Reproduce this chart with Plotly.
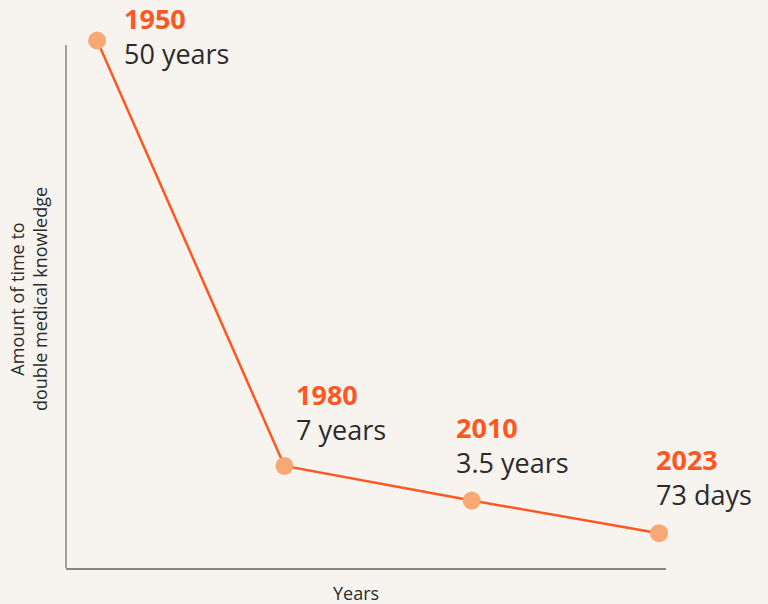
import plotly.graph_objects as go

years = ["1950", "1980", "2010", "2023"]
doubling_years = [50, 7, 3.5, 0.2]
value_labels = ["50 years", "7 years", "3.5 years", "73 days"]

LINE = "#ff5722"
MARK = "#f7a874"
BG = "#f7f4ef"
TXT = "#2b2b2b"
AXIS = "#8a8580"
FONT = "Open Sans, Roboto, sans-serif"

Y_RANGE = [-3.32, 51.06]
Y_AXIS_TOP = 49.54

fig = go.Figure()
fig.add_trace(go.Scatter(
    x=list(range(len(years))), y=doubling_years, mode="lines+markers",
    line=dict(color=LINE, width=2.5),
    marker=dict(color=MARK, size=18),
    cliponaxis=False, hoverinfo="skip", showlegend=False,
))

# label offsets in pixels: (x shift, y shift of the two-line label's bottom)
offs = [(26, -32.5), (11, 17.0), (-17, 18.5), (-4, 19.3)]
for i, (yr, val, lab) in enumerate(zip(years, doubling_years, value_labels)):
    dx, dy = offs[i]
    fig.add_annotation(x=i, y=val, xref="x", yref="y",
                       text=f"<span style='color:{LINE}'><b>{yr}</b></span><br>{lab}",
                       showarrow=False, xanchor="left", yanchor="bottom", align="left",
                       xshift=dx, yshift=dy, borderpad=0,
                       font=dict(family=FONT, size=27, color=TXT))

# x-axis title
fig.add_annotation(x=0.4833, y=0, xref="paper", yref="paper", text="Years",
                   showarrow=False, xanchor="center", yanchor="top", yshift=-11,
                   font=dict(family=FONT, size=18, color=TXT))

# left axis line (stops a little below the top of the plotting area)
fig.add_shape(type="line", xref="paper", yref="y", x0=0, x1=0,
              y0=Y_RANGE[0], y1=Y_AXIS_TOP, layer="below",
              line=dict(color=AXIS, width=1.5))

fig.update_layout(
    width=768, height=604,
    paper_bgcolor=BG, plot_bgcolor=BG,
    margin=dict(l=66, r=102, t=30, b=36),
    font=dict(family=FONT, color=TXT),
    xaxis=dict(range=[-0.166, 3.037], showgrid=False, zeroline=False,
               showticklabels=False, ticks="", showline=True, linecolor=AXIS,
               linewidth=1.5, automargin=False),
    yaxis=dict(range=Y_RANGE, showgrid=False, zeroline=False,
               showticklabels=False, ticks="", showline=False,
               automargin=False,
               title=dict(text="Amount of time to<br>double medical knowledge",
                          font=dict(size=18, color=TXT), standoff=12)),
)

fig.write_html("out.html", post_script="document.body.style.margin='0';",
               config={"displayModeBar": False})
